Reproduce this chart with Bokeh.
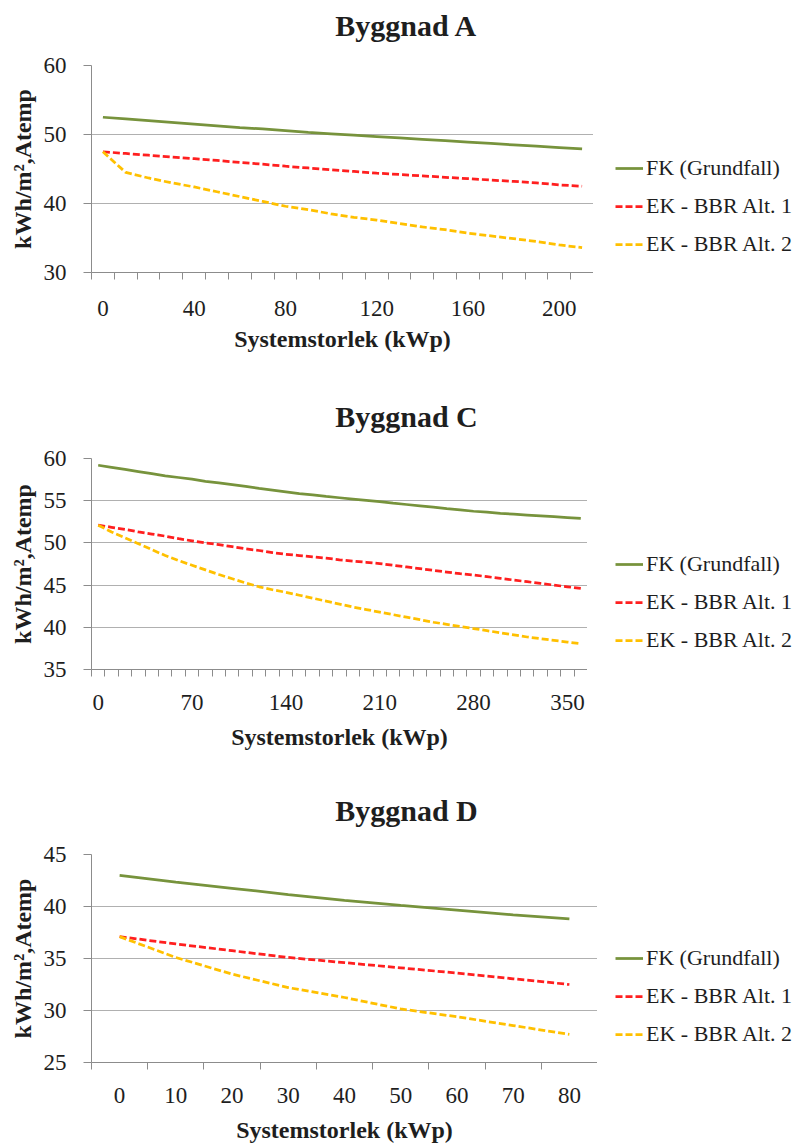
from bokeh.plotting import figure
from bokeh.models import FixedTicker, Legend, LegendItem, Range1d, Label
from bokeh.layouts import column, row
from bokeh.embed import file_html
from bokeh.resources import INLINE

# ---------------- data ----------------
series_names = ["FK (Grundfall)", "EK - BBR Alt. 1", "EK - BBR Alt. 2"]

a_title = "Byggnad A"
a_x = [0, 10, 20, 30, 40, 50, 60, 70, 80, 90, 100, 110, 120, 130, 140, 150,
       160, 170, 180, 190, 200, 210]
a_fk = [52.5, 52.25, 52.0, 51.75, 51.5, 51.25, 51.0, 50.8, 50.55, 50.3, 50.1,
        49.9, 49.7, 49.5, 49.3, 49.1, 48.9, 48.7, 48.5, 48.3, 48.1, 47.9]
a_ek1 = [47.5, 47.25, 47.0, 46.75, 46.5, 46.25, 45.95, 45.7, 45.4, 45.15, 44.9,
         44.65, 44.4, 44.2, 44.0, 43.8, 43.6, 43.4, 43.2, 43.0, 42.7, 42.5]
a_ek2 = [47.5, 44.5, 43.7, 43.0, 42.4, 41.7, 41.0, 40.3, 39.6, 39.1, 38.5,
         38.0, 37.6, 37.1, 36.6, 36.2, 35.7, 35.3, 34.9, 34.5, 34.0, 33.6]
a_xlabels = [0, 40, 80, 120, 160, 200]
a_yticks = [30, 40, 50, 60]

c_title = "Byggnad C"
c_x = [0, 10, 20, 30, 40, 50, 60, 70, 80, 90, 100, 110, 120, 130, 140, 150,
       160, 170, 180, 190, 200, 210, 220, 230, 240, 250, 260, 270, 280, 290,
       300, 310, 320, 330, 340, 350, 360]
c_fk = [59.2, 58.95, 58.7, 58.45, 58.2, 57.95, 57.75, 57.55, 57.3, 57.1, 56.9,
        56.7, 56.45, 56.25, 56.05, 55.85, 55.7, 55.5, 55.35, 55.2, 55.05, 54.9,
        54.7, 54.55, 54.4, 54.25, 54.05, 53.9, 53.75, 53.65, 53.5, 53.4, 53.3,
        53.2, 53.1, 53.0, 52.9]
c_ek1 = [52.1, 51.85, 51.6, 51.3, 51.05, 50.8, 50.5, 50.25, 50.0, 49.8, 49.55,
         49.3, 49.1, 48.85, 48.65, 48.5, 48.35, 48.2, 48.0, 47.85, 47.7, 47.55,
         47.35, 47.15, 46.95, 46.75, 46.55, 46.35, 46.2, 46.0, 45.8, 45.6, 45.4,
         45.2, 45.0, 44.8, 44.6]
c_ek2 = [52.1, 51.3, 50.6, 49.9, 49.2, 48.5, 47.9, 47.35, 46.8, 46.25, 45.75,
         45.25, 44.8, 44.45, 44.15, 43.8, 43.45, 43.1, 42.75, 42.4, 42.1, 41.8,
         41.5, 41.2, 40.9, 40.6, 40.35, 40.1, 39.85, 39.6, 39.35, 39.1, 38.85,
         38.65, 38.45, 38.25, 38.05]
c_xlabels = [0, 70, 140, 210, 280, 350]
c_yticks = [35, 40, 45, 50, 55, 60]

d_title = "Byggnad D"
d_x = [0, 10, 20, 30, 40, 50, 60, 70, 80]
d_fk = [43.0, 42.35, 41.75, 41.15, 40.6, 40.1, 39.65, 39.2, 38.8]
d_ek1 = [37.1, 36.4, 35.75, 35.1, 34.6, 34.1, 33.6, 33.05, 32.5]
d_ek2 = [37.1, 35.1, 33.5, 32.2, 31.25, 30.15, 29.4, 28.55, 27.7]
d_xlabels = [0, 10, 20, 30, 40, 50, 60, 70, 80]
d_yticks = [25, 30, 35, 40, 45]

x_title = "Systemstorlek (kWp)"
y_title = "kWh/m\u00b2,Atemp"

# ---------------- style ----------------
FONT = "Liberation Serif"
TXT = "#1e1e1e"
AXC = "#8c8c8c"
GRIDC = "#b0b0b0"
COLORS = ["#77933C", "#FF1F1F", "#FFC000"]
DASHES = ["solid", "7 3", "7 3"]
PAGE_W = 802
LEFT = 91


def blank(width, height):
    f = figure(width=width, height=height, output_backend="svg",
               toolbar_location=None, x_axis_location=None,
               y_axis_location=None, x_range=Range1d(0, 1),
               y_range=Range1d(0, 1), min_border=0)
    f.outline_line_color = None
    f.grid.visible = False
    f.background_fill_color = "white"
    f.border_fill_color = "white"
    return f


def block(title, xs, ys_list, xlabels, yticks, strip_h, title_y, main_h,
          frame_w, bottom, leg_x, leg_y, xlab_standoff, xtitle_standoff):
    # title strip
    t = figure(width=PAGE_W, height=strip_h, output_backend="svg",
               toolbar_location=None, x_axis_location=None,
               y_axis_location=None, x_range=Range1d(0, PAGE_W),
               y_range=Range1d(0, strip_h), min_border=0)
    t.outline_line_color = None
    t.grid.visible = False
    t.add_layout(Label(x=PAGE_W / 2 + 5, y=title_y, text=title,
                       text_align="center", text_baseline="alphabetic",
                       text_font=FONT, text_font_size="30px",
                       text_font_style="bold", text_color=TXT))

    # main plot
    step = xs[1] - xs[0]
    half = step / 2.0
    bounds = [x - half for x in xs] + [xs[-1] + half]
    main_w = LEFT + frame_w
    p = figure(width=main_w, height=main_h, output_backend="svg",
               toolbar_location=None,
               x_range=Range1d(xs[0] - half, xs[-1] + half),
               y_range=Range1d(yticks[0], yticks[-1]),
               min_border_left=LEFT, min_border_right=0,
               min_border_top=17, min_border_bottom=bottom)
    p.outline_line_color = None
    p.background_fill_color = "white"
    p.border_fill_color = "white"

    xa = p.xaxis[0]
    xa.ticker = FixedTicker(ticks=xlabels, minor_ticks=bounds)
    xa.major_tick_out = 0
    xa.major_tick_in = 0
    xa.major_tick_line_color = None
    xa.minor_tick_out = 7
    xa.minor_tick_in = 0
    xa.minor_tick_line_color = AXC
    xa.axis_line_color = AXC
    xa.major_label_text_font = FONT
    xa.major_label_text_font_size = "23px"
    xa.major_label_text_color = TXT
    xa.major_label_standoff = xlab_standoff
    xa.axis_label = x_title
    xa.axis_label_text_font = FONT
    xa.axis_label_text_font_size = "24px"
    xa.axis_label_text_font_style = "bold"
    xa.axis_label_text_color = TXT
    xa.axis_label_standoff = xtitle_standoff

    ya = p.yaxis[0]
    ya.ticker = FixedTicker(ticks=yticks)
    ya.major_tick_out = 8
    ya.major_tick_in = 0
    ya.major_tick_line_color = AXC
    ya.minor_tick_line_color = None
    ya.axis_line_color = AXC
    ya.major_label_text_font = FONT
    ya.major_label_text_font_size = "23px"
    ya.major_label_text_color = TXT
    ya.major_label_standoff = 17
    ya.axis_label = y_title
    ya.axis_label_text_font = FONT
    ya.axis_label_text_font_size = "24px"
    ya.axis_label_text_font_style = "bold"
    ya.axis_label_text_color = TXT
    ya.axis_label_standoff = 5

    p.xgrid.visible = False
    p.ygrid.ticker = FixedTicker(ticks=yticks)
    p.ygrid.grid_line_color = GRIDC
    p.ygrid.grid_line_width = 1

    for ys, col, dash in zip(ys_list, COLORS, DASHES):
        p.line(xs, ys, line_color=col, line_width=2.75, line_dash=dash)

    # legend panel (its frame is aligned with the main frame by the row;
    # the series are re-drawn outside its visible range, legend only)
    lg = blank(PAGE_W - main_w, main_h)
    items = []
    for name, ys, col, dash in zip(series_names, ys_list, COLORS, DASHES):
        r = lg.line(xs, ys, line_color=col, line_width=2.75, line_dash=dash)
        items.append(LegendItem(label=name, renderers=[r]))
    leg = Legend(items=items, location=(leg_x, leg_y), orientation="vertical",
                 glyph_width=28, glyph_height=20, label_height=20, spacing=12,
                 label_standoff=3, padding=0, margin=0,
                 border_line_color=None, background_fill_alpha=0,
                 label_text_font=FONT, label_text_font_size="22px",
                 label_text_color=TXT)
    lg.add_layout(leg)

    return column(t, row(p, lg, spacing=0), spacing=0)


bA = block(a_title, a_x, [a_fk, a_ek1, a_ek2], a_xlabels, a_yticks,
           strip_h=48, title_y=23, main_h=340, frame_w=502, bottom=116,
           leg_x=22, leg_y=15, xlab_standoff=21, xtitle_standoff=7)
bC = block(c_title, c_x, [c_fk, c_ek1, c_ek2], c_xlabels, c_yticks,
           strip_h=53, title_y=25, main_h=335, frame_w=496, bottom=107,
           leg_x=28, leg_y=16, xlab_standoff=18, xtitle_standoff=11)
bD = block(d_title, d_x, [d_fk, d_ek1, d_ek2], d_xlabels, d_yticks,
           strip_h=61, title_y=27, main_h=308, frame_w=506, bottom=81,
           leg_x=18, leg_y=15, xlab_standoff=18, xtitle_standoff=11)

layout = column(bA, bC, bD, spacing=0)
open("out.html", "w").write(file_html(layout, INLINE))
